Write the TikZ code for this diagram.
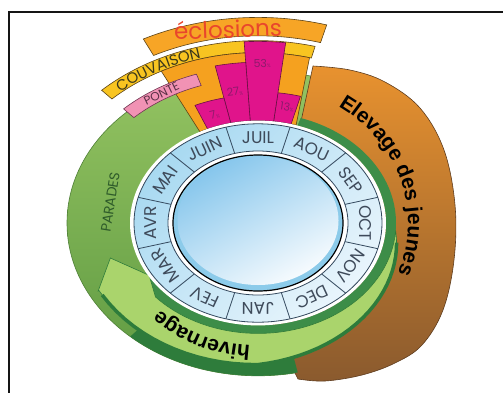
\documentclass[tikz,border=0pt]{standalone}
\usepackage{fontspec}
\setsansfont{Liberation Sans}
\newfontfamily\geofont{Poppins}
\usetikzlibrary{decorations.text}

\definecolor{framecol}{HTML}{151515}
\definecolor{parlight}{HTML}{95C462}
\definecolor{pardark}{HTML}{5F9A42}
\definecolor{parline}{HTML}{4E7F36}
\definecolor{browntop}{HTML}{E8922F}
\definecolor{brownbot}{HTML}{8A5A2E}
\definecolor{brownline}{HTML}{5E3C1E}
\definecolor{ringgreen}{HTML}{3D8D48}
\definecolor{hivfill}{HTML}{AAD46C}
\definecolor{hivline}{HTML}{2E7C3B}
\definecolor{orangeblock}{HTML}{F5A11F}
\definecolor{yellowband}{HTML}{F8C421}
\definecolor{ecloband}{HTML}{F7A526}
\definecolor{bandline}{HTML}{5C4317}
\definecolor{eclored}{HTML}{E9462C}
\definecolor{barpink}{HTML}{E0148B}
\definecolor{barline}{HTML}{6A0E45}
\definecolor{pctcol}{HTML}{8E1A6C}
\definecolor{pontefill}{HTML}{F192B4}
\definecolor{ponteline}{HTML}{6E3450}
\definecolor{pontetxt}{HTML}{5A3046}
\definecolor{couvtxt}{HTML}{3A371C}
\definecolor{partxt}{HTML}{2E5B2A}
\definecolor{monthtop}{HTML}{A8D9F1}
\definecolor{monthbot}{HTML}{E9F5FC}
\definecolor{monthline}{HTML}{34495E}
\definecolor{monthtxt}{HTML}{3E4A5A}
\definecolor{rimblue}{HTML}{8CCBEA}
\definecolor{disktop}{HTML}{86C6EC}
\definecolor{diskbot}{HTML}{F7FBFE}

\newcommand\monthfont{\geofont\fontsize{17}{17}\selectfont}
\newcommand\couvfont{\geofont\fontsize{15}{15}\selectfont}
\newcommand\pontefont{\geofont\fontsize{12}{12}\selectfont}
\newcommand\parfont{\geofont\fontsize{14}{14}\selectfont}
\newcommand\eclofont{\geofont\fontsize{23}{23}\selectfont}
\newcommand\bigfont{\sffamily\bfseries\fontsize{21}{21}\selectfont}
\newcommand\pctfont{\geofont\fontsize{11}{11}\selectfont}

\tikzset{
    %Define style for the frame
    framebox/.style={draw=framecol, line width=1.6pt},
    %Define styles for the outer rims
    paradesrim/.style={top color=parlight, bottom color=pardark,
           draw=parline, line width=.6pt},
    brownrim/.style={top color=browntop, bottom color=brownbot,
           draw=brownline, line width=.6pt},
    greenring/.style={fill=ringgreen},
    hivband/.style={fill=hivfill, draw=hivline, line width=.6pt},
    hivedge/.style={draw=hivline, line width=3.5pt},
    %Define styles for the top bands
    bandbox/.style={draw=bandline, line width=.6pt},
    barbox/.style={fill=barpink, draw=barline, line width=.6pt},
    pontebox/.style={fill=pontefill, draw=ponteline, line width=.6pt},
    %Define styles for the month ring
    monthband/.style={top color=monthtop, bottom color=monthbot,
           shading angle=45, draw=monthline, line width=.8pt},
    monthsep/.style={draw=monthline, line width=.8pt},
    monthlabel/.style={font=\monthfont, text=monthtxt, inner sep=0pt},
    pcttxt/.style={font=\pctfont, text=pctcol, inner sep=0pt}
}

\begin{document}
\begin{tikzpicture}[x=1pt,y=1pt]
\useasboundingbox (0,0) rectangle (503,-392);
\clip (0,0) rectangle (503,-392);
% frame
\draw[framebox] (9,-400) -- (9,-12) -- (510,-12);
\begin{scope}[shift={(258,-223)}, yscale=0.8]
 % parades rim
 \path[paradesrim] (0,0) circle (191);
\end{scope}
% elevage rim
\path[brownrim] (300,-126) -- (313,-66) -- plot[smooth, tension=.6] coordinates {
   (313,-66) (350,-70) (385,-82) (420,-108) (444,-150) (455,-205) (454,-260)
   (443,-310) (422,-345) (395,-363) (362,-375) (325,-381) (298,-379)}
   -- (258,-300) -- cycle;
\begin{scope}[shift={(258,-223)}, yscale=0.8]
 % top bands
 \path[bandbox, fill=ecloband] (74.5:234) -- (74.5:257)
   arc[start angle=74.5, end angle=116.5, radius=257] -- (116.5:234)
   arc[start angle=116.5, end angle=74.5, radius=234] -- cycle;
 \path[bandbox, fill=yellowband] (75.5:213) -- (75.5:228)
   arc[start angle=75.5, end angle=133.3, radius=228] -- (133.3:213)
   arc[start angle=133.3, end angle=75.5, radius=213] -- cycle;
 \path[bandbox, fill=orangeblock] (72.7:128) -- (76:213)
   arc[start angle=76, end angle=117, radius=213] -- (117:128)
   arc[start angle=117, end angle=72.7, radius=128] -- cycle;
 % hatching bars
 \foreach \lo/\hi/\top in {75/83/164, 83/93.5/227, 93.5/102.3/201, 102.3/113.2/160}
   \path[barbox] (\lo:128) -- (\lo:\top)
     arc[start angle=\lo, end angle=\hi, radius=\top] -- (\hi:128)
     arc[start angle=\hi, end angle=\lo, radius=128] -- cycle;
 \foreach \ang/\rad/\val [count=\k] in {78.7/148/13, 88.8/199/53, 98/166/27, 107.8/142/7}{
   \pgfmathsetmacro\rot{atan2(-0.8*cos(\ang), sin(\ang))}
   \node[pcttxt, rotate=\rot] (p\k) at (\ang:\rad) {\val{\fontsize{5}{5}\selectfont\%}};
 }
 % ponte label
 \path[pontebox] (108.3:181) -- (108.3:196)
   arc[start angle=108.3, end angle=133.3, radius=196] -- (133.3:181)
   arc[start angle=133.3, end angle=108.3, radius=181] -- cycle;
 \pgfmathsetmacro\rot{atan2(-0.8*cos(120.8), sin(120.8))}
 \node[font=\pontefont, text=pontetxt, inner sep=0pt, rotate=\rot] (ponte) at (120.8:188.5) {PONTE};
 % green ring and hivernage
 \path[greenring] (72:128) arc[start angle=72, end angle=-150, radius=128]
   -- (-150:138) arc[start angle=-150, end angle=72, radius=138] -- cycle;
 \path[fill=hivline] (228:170) -- (228:191)
   arc[start angle=228, end angle=282, radius=191] -- (282:170)
   arc[start angle=282, end angle=228, radius=170] -- cycle;
 \path[hivband] (211:127) -- (196.5:154) -- (208:181)
   -- plot[domain=208:270, samples=16] (\x:{180-(\x-208)*3/62})
   -- plot[domain=270:356, samples=24] (\x:{177-(\x-270)*39/86})
   -- (356:138) arc[start angle=356, end angle=222, radius=138] -- cycle;
 \draw[hivedge] plot[domain=210:270, samples=16] (\x:{180-(\x-208)*3/62})
   -- plot[domain=270:350, samples=24] (\x:{177-(\x-270)*39/86});
 % month ring
 \fill[white] (0,0) circle (128);
 \path[monthband] (0,0) circle (124);
 \path[fill=white, draw=monthline, line width=.8pt] (0,0) circle (90);
 \foreach \a in {15,45,...,345}
   \draw[monthsep] (\a:90) -- (\a:124);
 \foreach \m [count=\i] in {JAN,FEV,MAR,AVR,MAI,JUIN,JUIL,AOU,SEP,OCT,NOV,DEC}{
   \pgfmathsetmacro\ang{270-30*(\i-1)}
   \pgfmathsetmacro\rot{atan2(-0.8*cos(\ang), sin(\ang))}
   \node[monthlabel, rotate=\rot] (m\i) at (\ang:107) {\m};
 }
 \path[fill=rimblue, draw=black, line width=1.2pt] (0,0) circle (85);
 \path[top color=disktop, bottom color=diskbot, shading angle=30] (0,3) circle (80.5);
 % parades text
 \node[font=\parfont, text=partxt, inner sep=0pt, rotate=81] (parades) at (170:150) {PARADES};
\end{scope}
% labels on the top bands
\node[font=\eclofont, text=eclored, inner sep=0pt, rotate=2] (eclo) at (228,-29) {éclosions};
\path[decorate, decoration={text along path, text align=center,
   text={|\couvfont\color{couvtxt}|COUVAISON}}]
   (258,-223) ++(136:214 and 171.2)
   arc[start angle=136, end angle=100, x radius=214, y radius=171.2];
% labels on the outer rims
\path[decorate, decoration={text along path, text align=center,
   text={|\bigfont|Elevage des jeunes}}]
   (258,-223) ++(66:150 and 138)
   arc[start angle=66, end angle=-30, x radius=150, y radius=138];
\path[decorate, decoration={text along path, text align=center,
   text={|\bigfont|hivernage}}]
   (258,-223) ++(275:138 and 123)
   arc[start angle=275, end angle=216, x radius=138, y radius=123];
\end{tikzpicture}
\end{document}
